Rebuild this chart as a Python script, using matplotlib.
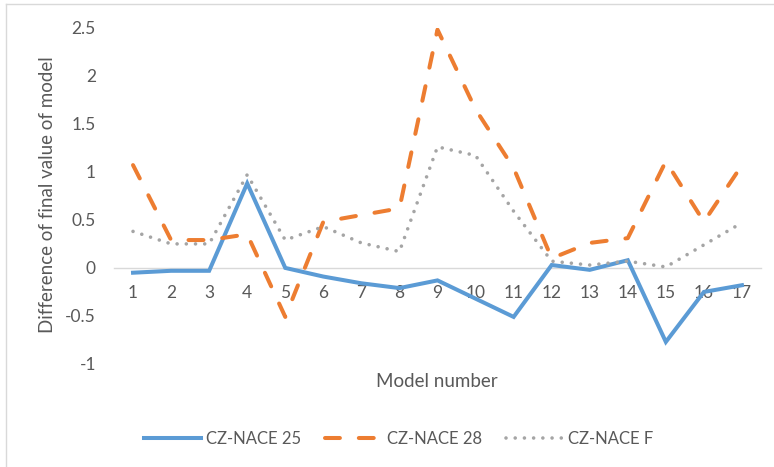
import matplotlib
matplotlib.use("Agg")
import matplotlib.pyplot as plt
from matplotlib.lines import Line2D

models = list(range(1, 18))
nace25 = [-0.05, -0.03, -0.03, 0.88, 0.00, -0.09, -0.16, -0.21, -0.13, -0.32,
          -0.51, 0.03, -0.02, 0.08, -0.77, -0.25, -0.18]
nace28 = [1.07, 0.29, 0.29, 0.35, -0.51, 0.48, 0.55, 0.62, 2.48, 1.65,
          1.04, 0.10, 0.26, 0.31, 1.11, 0.48, 1.07]
naceF = [0.38, 0.25, 0.25, 0.97, 0.29, 0.43, 0.26, 0.17, 1.26, 1.17,
         0.59, 0.07, 0.03, 0.07, 0.01, 0.24, 0.47]
series_names = ["CZ-NACE 25", "CZ-NACE 28", "CZ-NACE F"]
yticks = [-1, -0.5, 0, 0.5, 1, 1.5, 2, 2.5]
ytick_labels = ["-1", "-0.5", "0", "0.5", "1", "1.5", "2", "2.5"]

TXT = "#595959"
FONT = ["Lato", "DejaVu Sans"]
plt.rcParams["font.family"] = FONT

W, H = 774, 467
fig = plt.figure(figsize=(W / 100, H / 100), dpi=100)
ax = fig.add_axes([114 / W, 1 - 364 / H, (761 - 114) / W, (364 - 27.7) / H])

l1, = ax.plot(models, nace25, color="#5B9BD5", lw=2.9, solid_joinstyle="miter",
              label=series_names[0])
l2, = ax.plot(models, nace28, color="#ED7D31", lw=2.9, linestyle=(0, (3.7, 4.7)),
              dash_capstyle="round", label=series_names[1])
l3, = ax.plot(models, naceF, color="#A5A5A5", lw=2.6, linestyle=(0, (0.001, 2.55)),
              dash_capstyle="round", label=series_names[2])

ax.set_xlim(0.5, 17.5)
ax.set_ylim(-1, 2.5)
ax.set_xticks(models)
ax.set_xticklabels([str(m) for m in models])
ax.set_yticks(yticks)
ax.set_yticklabels(ytick_labels)

for s in ["top", "right", "left"]:
    ax.spines[s].set_visible(False)
ax.spines["bottom"].set_position(("data", 0))
ax.spines["bottom"].set_color("#D9D9D9")
ax.spines["bottom"].set_linewidth(1.0)
ax.spines["bottom"].set_zorder(0.5)

ax.tick_params(axis="x", length=0, pad=12.5, labelsize=12.5, labelcolor=TXT)
ax.tick_params(axis="y", length=0, pad=13, labelsize=12.5, labelcolor=TXT)

fig.text(436.7 / W, 1 - 381.7 / H, "Model number", ha="center", va="center",
         fontsize=13.5, color=TXT)
fig.text(48 / W, 1 - 195 / H, "Difference of final value of model", ha="center",
         va="center", rotation=90, fontsize=13.5, color=TXT)

fig.legend(handles=[l1, l2, l3], loc="center", bbox_to_anchor=(398.5 / W, 1 - 439 / H),
           ncol=3, frameon=False, fontsize=12, labelcolor=TXT, handlelength=3.4,
           handletextpad=0.3, columnspacing=1.45)

# chart-area border
fig.add_artist(Line2D([6 / W, 6 / W], [0, 1 - 4 / H], transform=fig.transFigure,
                      color="#D9D9D9", lw=1.0))
fig.add_artist(Line2D([6 / W, 1], [1 - 4 / H, 1 - 4 / H], transform=fig.transFigure,
                      color="#D9D9D9", lw=1.0))

fig.savefig("out.png", dpi=100)
